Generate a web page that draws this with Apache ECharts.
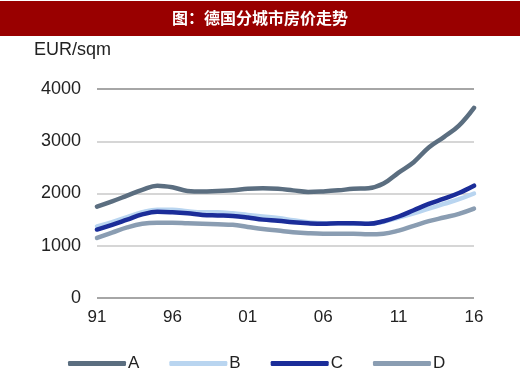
<!DOCTYPE html>
<html><head><meta charset="utf-8">
<script src="https://cdn.jsdelivr.net/npm/echarts@6/dist/echarts.min.js"></script>
<style>html,body{margin:0;padding:0;background:#fff}#c{width:520px;height:374px}</style>
</head><body><div id="c"></div>
<script>
const years = ['1991','1992','1993','1994','1995','1996','1997','1998','1999','2000','2001','2002','2003','2004','2005','2006','2007','2008','2009','2010','2011','2012','2013','2014','2015','2016'];
const seriesA = [1750,1850,1960,2070,2150,2120,2050,2040,2050,2060,2090,2100,2090,2060,2030,2040,2060,2090,2100,2190,2400,2600,2880,3080,3300,3640];
const seriesB = [1370,1450,1550,1640,1690,1690,1660,1640,1640,1620,1590,1560,1530,1490,1450,1430,1430,1420,1420,1460,1540,1620,1710,1800,1890,2000];
const seriesC = [1310,1400,1500,1600,1650,1640,1620,1590,1580,1570,1540,1500,1480,1450,1430,1420,1430,1430,1420,1470,1560,1680,1800,1900,2010,2150];
const seriesD = [1150,1250,1350,1420,1440,1440,1430,1420,1410,1400,1360,1320,1290,1260,1240,1230,1230,1230,1220,1230,1290,1380,1470,1540,1610,1710];
const names = ['A','B','C','D'];
const titleText = '图：德国分城市房价走势';
const unitText = 'EUR/sqm';

const colors = ['#5b6e80','#b9d5f0','#1b2d99','#8a9db2'];
const chart = echarts.init(document.getElementById('c'), null, {renderer:'canvas'});
const mk = (name, data, color) => ({
  name, type:'line', data, smooth:0.4, showSymbol:false, symbol:'none',
  lineStyle:{width:4.5, color, cap:'round'}, itemStyle:{color}
});
chart.setOption({
  animation:false,
  backgroundColor:'#fff',
  graphic:[
    {type:'rect', left:0, top:1, shape:{width:520, height:35}, style:{fill:'#990000'}},
    {type:'text', left:'center', top:10, style:{text:titleText, fill:'#fff', font:'bold 16px "Noto Sans CJK SC"'}},
    {type:'text', left:34, top:41, style:{text:unitText, fill:'#222', font:'18px "Liberation Sans", Arial'}}
  ],
  grid:{left:97, right:46, top:89, bottom:76, containLabel:false},
  legend:{
    data:names, left:63, top:350, icon:'roundRect', itemWidth:58, itemHeight:5, itemGap:30,
    textStyle:{fontSize:17, color:'#222', fontFamily:'"Liberation Sans", Arial', padding:[0,0,0,-3]}
  },
  xAxis:{
    type:'category', data:years, boundaryGap:false,
    axisLine:{show:false}, axisTick:{show:false},
    axisLabel:{interval:4, margin:11, fontSize:17, color:'#222', fontFamily:'"Liberation Sans", Arial',
      formatter:v=>v.slice(2)}
  },
  yAxis:{
    type:'value', min:0, max:4000, interval:1000,
    axisLine:{show:false}, axisTick:{show:false},
    axisLabel:{margin:16, fontSize:18, color:'#222', fontFamily:'"Liberation Sans", Arial', formatter:v=>String(v)},
    splitLine:{lineStyle:{color:['#888','#c8c8c8','#c8c8c8','#c8c8c8','#888'], width:1.5}}
  },
  series:[mk(names[0],seriesA,colors[0]), mk(names[1],seriesB,colors[1]), mk(names[2],seriesC,colors[2]), mk(names[3],seriesD,colors[3])]
});
</script></body></html>
